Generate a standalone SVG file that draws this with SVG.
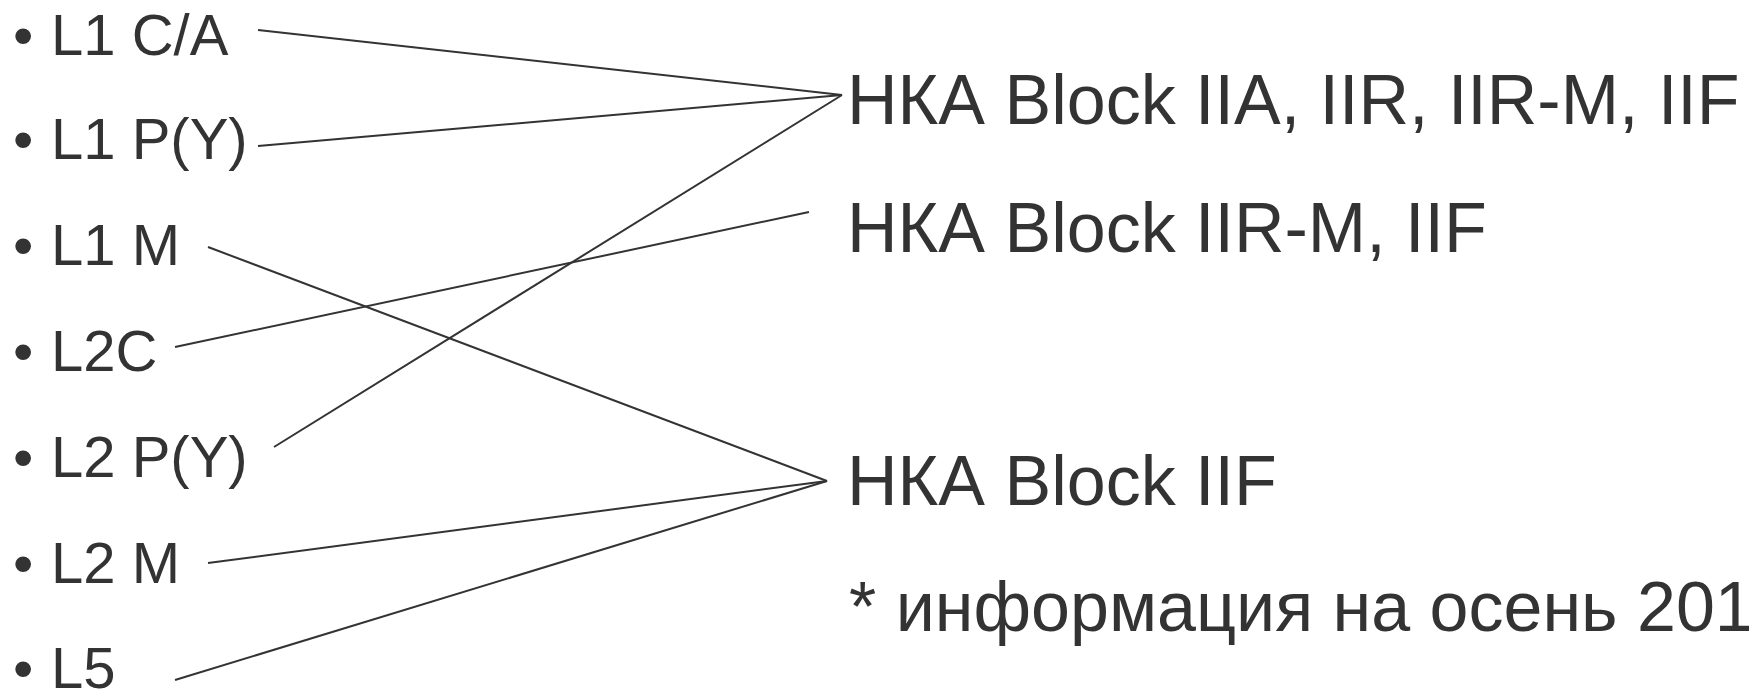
<svg xmlns="http://www.w3.org/2000/svg" width="1749" height="689" viewBox="0 0 1749 689">
<style>
.lbl{font-family:"Liberation Sans",Arial,sans-serif;font-size:58px;fill:#333333}
.sat{font-family:"Liberation Sans",Arial,sans-serif;font-size:70px;fill:#333333}
.con line{stroke:#333333;stroke-width:2;fill:none}
</style>
<rect width="1749" height="689" fill="#ffffff"/>
<g id="n-l1ca"><text class="lbl" x="13" y="55">•</text><text class="lbl" x="51" y="55">L1 C/A</text></g>
<g id="n-l1py"><text class="lbl" x="13" y="159">•</text><text class="lbl" x="51" y="159">L1 P(Y)</text></g>
<g id="n-l1m"><text class="lbl" x="13" y="265">•</text><text class="lbl" x="51" y="265">L1 M</text></g>
<g id="n-l2c"><text class="lbl" x="13" y="371">•</text><text class="lbl" x="51" y="371">L2C</text></g>
<g id="n-l2py"><text class="lbl" x="13" y="477">•</text><text class="lbl" x="51" y="477">L2 P(Y)</text></g>
<g id="n-l2m"><text class="lbl" x="13" y="583">•</text><text class="lbl" x="51" y="583">L2 M</text></g>
<g id="n-l5"><text class="lbl" x="13" y="688">•</text><text class="lbl" x="51" y="688">L5</text></g>
<g id="n-block-all"><text class="sat" x="847" y="124">НКА Block IIA, IIR, IIR-M, IIF</text></g>
<g id="n-block-irm"><text class="sat" x="847" y="252">НКА Block IIR-M, IIF</text></g>
<g id="n-block-iif"><text class="sat" x="847" y="505">НКА Block IIF</text></g>
<g id="note"><text class="sat" x="849" y="631">* информация на осень 201</text></g>
<g id="connectors" class="con">
<line x1="258" y1="30" x2="842" y2="95"/>
<line x1="258" y1="146" x2="842" y2="95"/>
<line x1="274" y1="447" x2="842" y2="95"/>
<line x1="175" y1="347" x2="809" y2="212"/>
<line x1="208" y1="247" x2="827" y2="481"/>
<line x1="208" y1="563" x2="827" y2="481"/>
<line x1="175" y1="680" x2="827" y2="481"/>
</g>
</svg>
